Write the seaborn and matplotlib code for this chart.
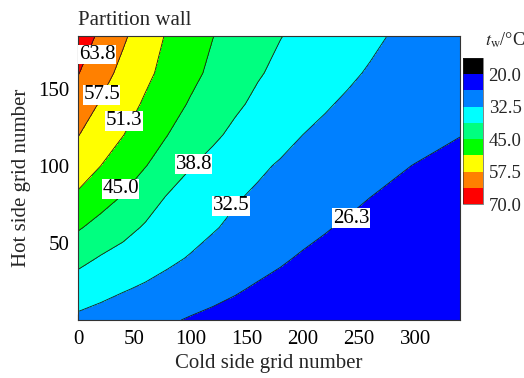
import numpy as np
import pandas as pd
import matplotlib
matplotlib.use('Agg')
import matplotlib.pyplot as plt
import seaborn as sns
from matplotlib.colors import ListedColormap, BoundaryNorm

# Datos (temperatura de pared, °C)
cold_grid = [0, 20, 40, 60, 80, 100, 120, 140, 160,
             180, 200, 220, 240, 260, 280, 300, 320, 340]
hot_grid = [0, 20, 40, 60, 80, 100, 120, 140, 160, 184]
t_y0 = [31.3, 30.2, 29.1, 28.0, 26.9, 25.8, 24.9, 24.1, 23.4,
        22.8, 22.3, 21.8, 21.4, 21.1, 20.8, 20.6, 20.4, 20.2]
t_y20 = [35.7, 34.3, 32.9, 31.7, 30.4, 29.2, 28.0, 26.8, 25.6,
         24.7, 23.9, 23.3, 22.7, 22.2, 21.7, 21.3, 20.9, 20.6]
t_y40 = [40.5, 38.3, 36.8, 35.2, 33.6, 32.1, 30.8, 29.5, 28.2,
         26.9, 25.7, 24.9, 24.0, 23.3, 22.6, 22.0, 21.5, 21.0]
t_y60 = [45.6, 43.0, 40.5, 38.2, 36.4, 34.6, 32.9, 31.5, 30.3,
         29.1, 27.8, 26.6, 25.6, 24.6, 23.8, 23.1, 22.4, 21.8]
t_y80 = [50.3, 47.5, 44.7, 41.4, 38.4, 36.6, 34.8, 33.0, 31.7,
         30.6, 29.5, 28.5, 27.4, 26.3, 25.4, 24.6, 23.6, 22.7]
t_y100 = [54.7, 51.3, 48.2, 45.2, 42.1, 39.0, 37.1, 35.2, 33.4,
          32.0, 31.0, 30.0, 29.0, 28.0, 27.0, 26.1, 25.2, 24.3]
t_y120 = [57.7, 54.5, 51.4, 48.2, 45.0, 42.3, 39.7, 37.6, 35.9,
          34.2, 32.5, 31.6, 30.7, 29.9, 29.0, 28.1, 27.3, 26.4]
t_y140 = [61.2, 57.0, 53.7, 50.5, 47.4, 44.5, 42.1, 39.6, 37.7,
          36.1, 34.5, 32.9, 31.9, 31.2, 30.4, 29.7, 28.9, 28.1]
t_y160 = [64.0, 59.8, 55.9, 52.5, 49.4, 46.5, 43.8, 41.5, 39.2,
          37.6, 36.1, 34.7, 33.2, 32.1, 31.3, 30.5, 29.7, 28.9]
t_y184 = [67.0, 62.7, 58.4, 54.3, 50.6, 47.9, 45.1, 42.9, 40.9,
          38.9, 37.5, 36.1, 34.8, 33.4, 32.2, 31.3, 30.4, 29.5]

levels = [20, 26.25, 32.5, 38.75, 45, 51.25, 57.5, 63.75, 70]
cbar_ticks = [20, 32.5, 45, 57.5, 70]
label_levels = [63.75, 57.5, 51.25, 45, 38.75, 32.5, 26.25]
label_spots = [(17, 172), (21, 146), (41, 129), (38, 85),
               (103, 101), (136, 74), (243, 66)]

colores = ['#0000FF', '#0080FF', '#00FFFF', '#00FF80',
           '#00FF00', '#FFFF00', '#FF8000', '#FF0000']

sns.set_theme(style='ticks')
plt.rcParams['font.family'] = ['Liberation Serif', 'DejaVu Serif']
plt.rcParams['mathtext.fontset'] = 'stix'

tabla = pd.DataFrame([t_y0, t_y20, t_y40, t_y60, t_y80, t_y100,
                      t_y120, t_y140, t_y160, t_y184],
                     index=hot_grid, columns=cold_grid)
X, Y = np.meshgrid(tabla.columns.values, tabla.index.values)
Z = tabla.values

cmap = ListedColormap(colores)
cmap.set_under('black')
norm = BoundaryNorm(levels, cmap.N)

fig = plt.figure(figsize=(5.24, 3.78), dpi=100)
ax = fig.add_axes([0.1489, 0.1534, 0.729, 0.7513])

cf = ax.contourf(X, Y, Z, levels=levels, cmap=cmap, norm=norm, extend='min')
ax.contour(X, Y, Z, levels=levels[1:-1], colors='k', linewidths=0.6)

# etiquetas de las isotermas (estilo Origin, caja blanca horizontal)
for nivel, (lx, ly) in zip(label_levels, label_spots):
    ax.text(lx, ly, f'{nivel + 1e-9:.1f}', fontsize=15, ha='center', va='center',
            color='black',
            bbox=dict(facecolor='white', edgecolor='none', pad=0.3))

ax.set_xlim(0, 340)
ax.set_ylim(0, 184)
ax.set_xticks([0, 50, 100, 150, 200, 250, 300])
ax.set_yticks([50, 100, 150])
ax.set_xticks(np.arange(25, 340, 50), minor=True)
ax.set_yticks(np.arange(25, 184, 50), minor=True)
ax.tick_params(direction='in', length=4, width=0.8, labelsize=15, pad=6,
               colors='black')
ax.tick_params(axis='x', pad=7)
ax.tick_params(which='minor', direction='in', length=2.5, width=0.6)
for s in ax.spines.values():
    s.set_linewidth(0.8)
    s.set_color('#333333')
ax.set_xlabel('Cold side grid number', fontsize=15, labelpad=4)
ax.set_ylabel('Hot side grid number', fontsize=15, labelpad=5)
ax.set_title('Partition wall', fontsize=15, loc='left', pad=8)

cax = fig.add_axes([0.8836, 0.4603, 0.0382, 0.3862])
cbar = fig.colorbar(cf, cax=cax, ticks=cbar_ticks, extendrect=True,
                    extendfrac=0.125)
cbar.ax.invert_yaxis()
cbar.ax.minorticks_off()
cbar.ax.set_yticklabels([f'{v:.1f}' for v in cbar_ticks])
cbar.ax.tick_params(which='both', length=0, labelsize=13.5, pad=4)
cbar.outline.set_linewidth(0.4)
fig.text(0.926, 0.894, r'$t_{\rm w}$/°C', fontsize=13, ha='left', va='center')

fig.savefig('out.png', dpi=100)
